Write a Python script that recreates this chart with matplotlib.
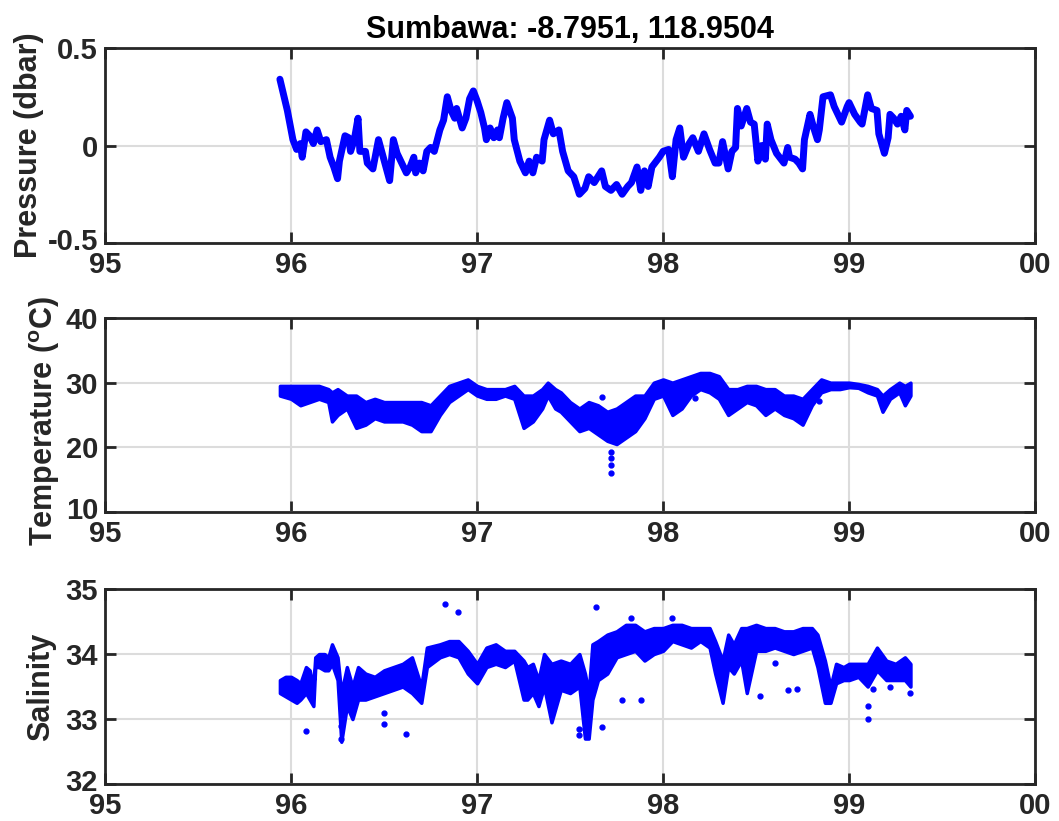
import matplotlib
matplotlib.use("Agg")
import matplotlib.pyplot as plt
from matplotlib.transforms import ScaledTranslation

plt.rcParams['font.family'] = ['Liberation Sans', 'DejaVu Sans']
plt.rcParams['font.weight'] = 'bold'
plt.rcParams['mathtext.fontset'] = 'custom'
plt.rcParams['mathtext.rm'] = 'Liberation Sans:bold'
plt.rcParams['mathtext.bf'] = 'Liberation Sans:bold'
plt.rcParams['mathtext.default'] = 'bf'

# x axis: years since 1900
xticks = [95, 96, 97, 98, 99, 100]
xticklabels = ['95', '96', '97', '98', '99', '00']

# pressure anomaly (dbar)
p_year = [95.94, 95.96, 95.98, 96.00, 96.01, 96.03, 96.05, 96.06, 96.08, 96.10,
          96.12, 96.14, 96.16, 96.19, 96.21, 96.23, 96.25, 96.26, 96.29, 96.31,
          96.32, 96.34, 96.36, 96.37, 96.40, 96.41, 96.44, 96.47, 96.49, 96.51,
          96.53, 96.55, 96.57, 96.59, 96.62, 96.64, 96.66, 96.67, 96.69, 96.71,
          96.73, 96.75, 96.77, 96.80, 96.82, 96.84, 96.86, 96.88, 96.89, 96.92,
          96.94, 96.96, 96.98, 97.00, 97.02, 97.04, 97.05, 97.07, 97.09, 97.11,
          97.12, 97.14, 97.16, 97.19, 97.20, 97.23, 97.26, 97.28, 97.30, 97.32,
          97.35, 97.36, 97.39, 97.41, 97.44, 97.46, 97.49, 97.52, 97.55, 97.58,
          97.60, 97.63, 97.67, 97.69, 97.72, 97.75, 97.78, 97.81, 97.83, 97.86,
          97.88, 97.90, 97.92, 97.94, 97.98, 98.00, 98.03, 98.05, 98.07, 98.09,
          98.11, 98.14, 98.16, 98.19, 98.22, 98.25, 98.28, 98.30, 98.32, 98.35,
          98.37, 98.39, 98.40, 98.42, 98.45, 98.47, 98.49, 98.51, 98.53, 98.55,
          98.56, 98.58, 98.61, 98.65, 98.67, 98.68, 98.71, 98.73, 98.75, 98.76,
          98.79, 98.81, 98.83, 98.84, 98.86, 98.90, 98.92, 98.96, 98.99, 99.00,
          99.03, 99.06, 99.07, 99.10, 99.12, 99.15, 99.16, 99.19, 99.21, 99.22,
          99.24, 99.26, 99.28, 99.30, 99.31, 99.33]
pressure = [0.34, 0.26, 0.18, 0.08, 0.03, -0.02, 0.01, -0.06, 0.07, 0.05,
            0.01, 0.08, 0.02, 0.03, -0.06, -0.11, -0.17, -0.08, 0.05, 0.04,
            -0.03, 0.03, 0.14, -0.03, -0.03, -0.09, -0.12, 0.03, -0.04, -0.11,
            -0.18, 0.03, -0.04, -0.08, -0.14, -0.11, -0.06, -0.14, -0.09, -0.13,
            -0.03, -0.01, -0.03, 0.08, 0.13, 0.25, 0.18, 0.14, 0.19, 0.09,
            0.14, 0.24, 0.28, 0.23, 0.17, 0.09, 0.03, 0.09, 0.04, 0.08,
            0.04, 0.14, 0.22, 0.14, 0.03, -0.08, -0.14, -0.08, -0.14, -0.06,
            -0.08, 0.03, 0.13, 0.06, 0.08, -0.03, -0.13, -0.16, -0.25, -0.22,
            -0.16, -0.19, -0.13, -0.21, -0.23, -0.20, -0.25, -0.21, -0.19, -0.11,
            -0.23, -0.13, -0.21, -0.11, -0.06, -0.03, -0.02, -0.16, 0.03, 0.09,
            -0.06, 0.01, 0.04, -0.03, 0.06, -0.02, -0.09, -0.09, 0.02, -0.12,
            -0.03, -0.01, 0.19, 0.10, 0.19, 0.12, 0.11, -0.08, 0.00, -0.07,
            0.11, 0.03, -0.04, -0.09, -0.01, -0.06, -0.07, -0.09, -0.12, 0.03,
            0.16, 0.09, 0.03, 0.08, 0.25, 0.26, 0.20, 0.12, 0.20, 0.22,
            0.16, 0.12, 0.11, 0.26, 0.19, 0.18, 0.06, -0.04, 0.04, 0.16,
            0.14, 0.11, 0.15, 0.08, 0.18, 0.15]

# temperature band (upper / lower edge of the dot cloud)
t_year = [95.94, 96.00, 96.05, 96.10, 96.15, 96.20, 96.22, 96.25, 96.30, 96.35,
          96.40, 96.45, 96.50, 96.55, 96.60, 96.65, 96.70, 96.75, 96.80, 96.85,
          96.90, 96.95, 97.00, 97.05, 97.10, 97.15, 97.20, 97.25, 97.30, 97.35,
          97.38, 97.42, 97.45, 97.50, 97.55, 97.60, 97.65, 97.70, 97.75, 97.80,
          97.85, 97.90, 97.95, 98.00, 98.05, 98.10, 98.15, 98.20, 98.25, 98.30,
          98.35, 98.40, 98.45, 98.50, 98.55, 98.60, 98.65, 98.70, 98.75, 98.80,
          98.85, 98.90, 98.95, 99.00, 99.05, 99.10, 99.15, 99.18, 99.22, 99.27,
          99.30, 99.33]
temp_hi = [29.5, 29.5, 29.5, 29.5, 29.5, 29.0, 28.5, 29.0, 28.0, 28.0,
           27.0, 27.5, 27.0, 27.0, 27.0, 27.0, 27.0, 26.5, 28.0, 29.5,
           30.0, 30.5, 29.5, 29.0, 29.0, 29.0, 29.5, 28.0, 28.0, 29.0,
           30.0, 29.0, 28.5, 27.0, 26.0, 27.0, 26.5, 25.5, 26.0, 27.0,
           28.0, 28.0, 30.0, 30.5, 30.0, 30.5, 31.0, 31.5, 31.5, 31.0,
           29.0, 29.0, 29.5, 29.5, 29.0, 29.0, 28.0, 28.0, 27.5, 29.0,
           30.5, 30.0, 30.0, 30.0, 29.8, 29.5, 29.0, 28.0, 29.0, 30.0,
           29.5, 30.0]
temp_lo = [28.0, 27.5, 26.5, 27.0, 27.5, 27.0, 24.0, 25.0, 26.0, 23.0,
           23.5, 24.5, 24.0, 24.0, 24.0, 23.5, 22.5, 22.5, 25.0, 27.0,
           28.0, 29.0, 28.0, 27.5, 27.5, 28.0, 27.5, 23.0, 24.0, 26.0,
           28.0, 26.0, 25.5, 24.0, 22.5, 23.0, 22.0, 21.0, 20.5, 21.5,
           22.5, 24.5, 27.5, 28.0, 25.0, 26.0, 28.0, 29.0, 28.5, 27.5,
           25.0, 26.0, 27.0, 26.5, 25.0, 26.0, 25.0, 24.5, 23.5, 26.5,
           28.5, 29.0, 29.0, 29.3, 29.2, 28.5, 28.0, 25.5, 27.5, 28.5,
           26.5, 28.0]
t_out_year = [97.67, 97.72, 97.72, 97.72, 97.72, 98.17, 98.84]
t_out = [27.8, 16.0, 17.3, 18.3, 19.3, 27.6, 27.1]

# salinity band (upper / lower edge of the dot cloud)
s_year = [95.94, 95.97, 96.00, 96.03, 96.05, 96.08, 96.10, 96.12, 96.13, 96.15,
          96.18, 96.20, 96.22, 96.25, 96.27, 96.30, 96.33, 96.36, 96.40, 96.45,
          96.50, 96.55, 96.60, 96.65, 96.70, 96.73, 96.80, 96.85, 96.90, 96.95,
          97.00, 97.05, 97.10, 97.15, 97.20, 97.25, 97.27, 97.30, 97.33, 97.36,
          97.40, 97.45, 97.50, 97.55, 97.58, 97.60, 97.62, 97.65, 97.70, 97.75,
          97.80, 97.85, 97.90, 97.95, 98.00, 98.05, 98.10, 98.15, 98.20, 98.25,
          98.28, 98.32, 98.35, 98.38, 98.42, 98.45, 98.50, 98.55, 98.60, 98.65,
          98.70, 98.75, 98.80, 98.83, 98.87, 98.90, 98.93, 98.97, 99.00, 99.05,
          99.10, 99.15, 99.20, 99.25, 99.30, 99.33]
sal_hi = [33.6, 33.65, 33.65, 33.6, 33.55, 33.8, 33.75, 33.5, 33.95, 34.0,
          34.0, 33.95, 34.15, 33.95, 33.4, 33.8, 33.5, 33.8, 33.7, 33.65,
          33.75, 33.8, 33.85, 33.95, 33.5, 34.1, 34.15, 34.2, 34.2, 34.05,
          33.85, 34.1, 34.15, 34.05, 34.05, 33.9, 33.8, 33.85, 33.6, 34.0,
          33.85, 33.9, 33.85, 34.0, 33.7, 33.4, 34.15, 34.2, 34.3, 34.35,
          34.45, 34.45, 34.35, 34.4, 34.4, 34.45, 34.45, 34.4, 34.4, 34.4,
          34.2, 33.9, 34.3, 34.15, 34.4, 34.4, 34.45, 34.4, 34.4, 34.35,
          34.35, 34.4, 34.4, 34.3, 33.9, 33.5, 33.85, 33.8, 33.85, 33.85,
          33.85, 34.1, 33.9, 33.85, 33.95, 33.85]
sal_lo = [33.4, 33.35, 33.3, 33.25, 33.3, 33.4, 33.3, 33.2, 33.8, 33.8,
          33.75, 33.75, 33.85, 33.6, 32.65, 33.2, 33.0, 33.3, 33.3, 33.35,
          33.4, 33.45, 33.5, 33.4, 33.25, 33.8, 33.95, 34.0, 33.95, 33.7,
          33.55, 33.8, 33.85, 33.8, 33.9, 33.3, 33.3, 33.4, 33.2, 33.5,
          32.95, 33.45, 33.4, 33.5, 32.7, 32.7, 33.3, 33.6, 33.7, 33.95,
          34.0, 34.05, 33.9, 34.0, 34.05, 34.2, 34.15, 34.1, 34.2, 34.1,
          33.7, 33.25, 33.8, 33.7, 33.9, 33.4, 34.05, 34.05, 34.1, 34.05,
          34.0, 34.05, 34.1, 33.8, 33.25, 33.25, 33.55, 33.6, 33.6, 33.65,
          33.5, 33.75, 33.6, 33.6, 33.6, 33.5]
s_out_year = [96.08, 96.27, 96.27, 96.50, 96.50, 96.62, 96.83, 96.90, 97.55, 97.55,
              97.64, 97.83, 98.05, 97.58, 97.67, 97.78, 97.88, 98.52, 98.60, 98.67,
              98.72, 99.10, 99.10, 99.13, 99.22, 99.33]
s_out = [32.82, 32.7, 32.9, 32.93, 33.1, 32.77, 34.77, 34.65, 32.75, 32.85,
         34.72, 34.55, 34.55, 32.85, 32.88, 33.3, 33.3, 33.36, 33.87, 33.45,
         33.47, 33.0, 33.2, 33.47, 33.5, 33.4]

blue = (0, 0, 1)
dark = '#262626'

fig = plt.figure(figsize=(10.59, 8.21), dpi=100)
left, width = 0.0992, 0.8782
ax1 = fig.add_axes([left, 0.704, width, 0.2375])
ax2 = fig.add_axes([left, 0.3764, width, 0.2363])
ax3 = fig.add_axes([left, 0.045, width, 0.2375])

ax1.plot(p_year, pressure, color=blue, lw=5, solid_joinstyle='round',
         solid_capstyle='round')

ax2.fill_between(t_year, temp_lo, temp_hi, color=blue, lw=2.5)
ax2.plot(t_out_year, t_out, 'o', color=blue, ms=3.5)

ax3.fill_between(s_year, sal_lo, sal_hi, color=blue, lw=2.5)
ax3.plot(s_out_year, s_out, 'o', color=blue, ms=3.5)

ylims = [(-0.5, 0.5), (10, 40), (32, 35)]
yticks = [[-0.5, 0, 0.5], [10, 20, 30, 40], [32, 33, 34, 35]]
yticklabels = [['-0.5', '0', '0.5'], ['10', '20', '30', '40'], ['32', '33', '34', '35']]
ylabels = ['Pressure (dbar)', 'Temperature ($^{o}$C)', 'Salinity']
label_xy = [(-0.066, 0.5), (-0.046, 0.47), (-0.053, 0.5)]

# nudge the lowest y tick label up a little so it clears the first x label
nudge = ScaledTranslation(0, 3 / 72, fig.dpi_scale_trans)

for ax, yl, yt, ytl, lab, lxy in zip([ax1, ax2, ax3], ylims, yticks, yticklabels,
                                     ylabels, label_xy):
    ax.set_xlim(95, 100)
    ax.set_ylim(*yl)
    ax.set_xticks(xticks)
    ax.set_xticklabels(xticklabels)
    ax.set_yticks(yt)
    ax.set_yticklabels(ytl)
    ax.grid(True, color='#dcdcdc', lw=1.5)
    ax.set_axisbelow(True)
    ax.tick_params(direction='in', length=8, width=2, top=True, right=True,
                   labelsize=21, colors=dark)
    ax.tick_params(axis='x', pad=6)
    ax.tick_params(axis='y', pad=5)
    for lbl in ax.get_xticklabels() + ax.get_yticklabels():
        lbl.set_fontweight('bold')
    low = ax.yaxis.get_major_ticks()[0].label1
    low.set_transform(low.get_transform() + nudge)
    for s in ax.spines.values():
        s.set_linewidth(2)
        s.set_color(dark)
    ax.set_ylabel(lab, fontsize=22, fontweight='bold', color=dark)
    ax.yaxis.set_label_coords(*lxy)

ax1.set_title('Sumbawa: -8.7951, 118.9504', fontsize=22, fontweight='bold', pad=7)

fig.savefig('out.png', dpi=100)
